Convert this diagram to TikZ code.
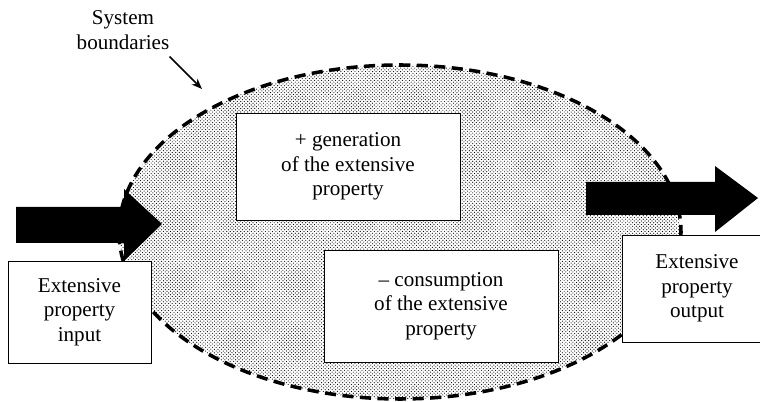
\documentclass[tikz,border=0pt]{standalone}
\usepackage{fontspec}
\setmainfont{Liberation Serif}
\usetikzlibrary{arrows.meta,patterns}

\begin{document}
\begin{tikzpicture}[x=0.03cm, y=-0.03cm,
        box/.style={draw, fill=white, line width=0.8pt, align=center, inner sep=0pt,
            font=\fontsize{18}{20.8}\selectfont},
        blockarrow/.style={fill=black}]
                \useasboundingbox (0, 0) rectangle (760, 402);

                % the system and its dashed boundary
                \fill[pattern=crosshatch dots, pattern color=black] (400, 232) ellipse (281 and 167);
                \draw[line width=3pt, dash pattern=on 9.5pt off 5.5pt] (400, 232) ellipse (281 and 167);

                % property flowing in and out
                \fill[blockarrow] (16, 207) -- (124, 207) -- (124, 189) -- (162, 224)
                    -- (124, 261) -- (124, 243) -- (16, 243) -- cycle;
                \fill[blockarrow] (586, 182) -- (715, 182) -- (715, 166) -- (758, 198)
                    -- (715, 232) -- (715, 215) -- (586, 215) -- cycle;

                \node[box, minimum width=6.72cm, minimum height=3.21cm] (gen) at (348, 166.5)
                    {+ generation\\of the extensive\\property};
                \node[box, minimum width=7.02cm, minimum height=3.36cm] (cons) at (441, 306)
                    {\textendash{} consumption\\of the extensive\\property};
                \node[box, minimum width=4.29cm, minimum height=3.06cm] (in) at (79.5, 312)
                    {Extensive\\property\\input};
                \node[box, minimum width=4.5cm, minimum height=3.21cm] (out) at (697, 288.5)
                    {Extensive\\property\\output};

                \node[align=center, inner sep=0pt, font=\fontsize{18}{20.8}\selectfont] (sysb) at (123, 30)
                    {System\\boundaries};
                \coordinate (bnd) at (202, 89);
                \draw[-{Stealth[length=9pt, width=7pt]}, line width=1.3pt]
                    ([shift={(0, 7)}]sysb.south east) -- (bnd);

            \end{tikzpicture}
\end{document}
